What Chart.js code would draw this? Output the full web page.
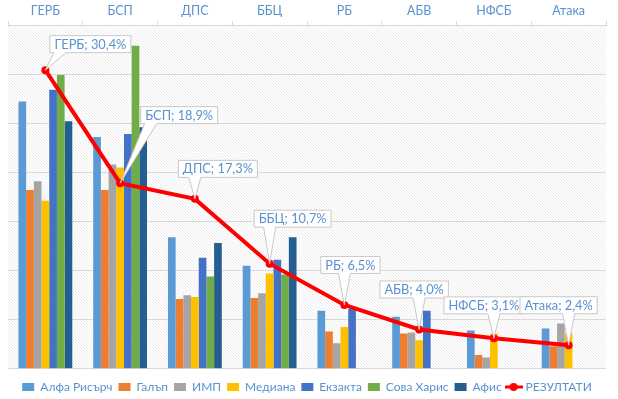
<!DOCTYPE html>
<html>
<head>
<meta charset="utf-8">
<script src="https://cdn.jsdelivr.net/npm/chart.js@4.4.1/dist/chart.umd.min.js"></script>
<style>
  html, body { margin: 0; padding: 0; background: #fff; }
  #wrap { width: 618px; height: 399px; }
</style>
</head>
<body>
<div id="wrap"><canvas id="chart"></canvas></div>
<script>
const parties = ["ГЕРБ", "БСП", "ДПС", "ББЦ", "РБ", "АБВ", "НФСБ", "Атака"];

// poll values per agency (%), null = no value shown
const alphaResearch = [27.2, 23.6, 13.4, 10.5, 5.9, 5.3, 3.9, 4.1];
const gallup        = [18.2, 18.2, 7.1, 7.2, 3.8, 3.6, 1.4, 2.3];
const imp           = [19.1, 20.8, 7.5, 7.7, 2.6, 3.7, 1.15, 4.6];
const mediana       = [17.1, 20.5, 7.3, 9.7, 4.25, 2.9, 3.6, 3.6];
const exacta        = [28.4, 23.9, 11.3, 11.1, 6.1, 5.9, null, null];
const sovaHarris    = [29.9, 32.9, 9.4, 9.6, null, null, null, null];
const afis          = [25.2, 24.6, 12.8, 13.4, null, null, null, null];
const results       = [30.4, 18.9, 17.3, 10.7, 6.5, 4.0, 3.1, 2.4];

const blueText = "#5a92cf";
const fontFamily = "Lato, 'Open Sans', sans-serif";

// diagonal hatch for the plot background
const hatch = document.createElement("canvas");
hatch.width = 3; hatch.height = 3;
const hctx = hatch.getContext("2d");
hctx.fillStyle = "#ffffff";
hctx.fillRect(0, 0, 3, 3);
hctx.fillStyle = "#ececec";
for (let i = 0; i < 3; i++) hctx.fillRect(i, i, 1, 1);

// legend marker for the results line
const lineMarker = document.createElement("canvas");
lineMarker.width = 18; lineMarker.height = 10;
const lctx = lineMarker.getContext("2d");
lctx.strokeStyle = "#ff0000";
lctx.lineWidth = 3;
lctx.beginPath(); lctx.moveTo(0, 5); lctx.lineTo(18, 5); lctx.stroke();
lctx.fillStyle = "#ff0000";
lctx.beginPath(); lctx.arc(9, 5, 4, 0, Math.PI * 2); lctx.fill();

const plotBackground = {
  id: "plotBackground",
  beforeDraw(chart) {
    const { ctx, chartArea: a } = chart;
    ctx.save();
    ctx.fillStyle = ctx.createPattern(hatch, "repeat");
    ctx.fillRect(a.left, a.top, a.right - a.left, a.bottom - a.top);
    ctx.restore();
  },
};

// callout boxes: offset of box centre from the point
const calloutOffsets = [[45, -26], [59, -68], [23, -30], [23, -45], [6, -40], [-5, -40], [-10, -33], [-10, -40]];

const callouts = {
  id: "callouts",
  afterDatasetsDraw(chart) {
    const idx = chart.data.datasets.length - 1;
    const meta = chart.getDatasetMeta(idx);
    const ctx = chart.ctx;
    ctx.save();
    ctx.font = "12.8px " + fontFamily;
    meta.data.forEach((pt, i) => {
      const v = chart.data.datasets[idx].data[i];
      const text = parties[i] + "; " + v.toFixed(1).replace(".", ",") + "%";
      const w = ctx.measureText(text).width + 9;
      const h = 17;
      const cx = pt.x + calloutOffsets[i][0];
      const cy = pt.y + calloutOffsets[i][1];
      const l = cx - w / 2, r = cx + w / 2, t = cy - h / 2, b = cy + h / 2;
      const bc = Math.min(Math.max(pt.x, l + 10), r - 10);
      ctx.beginPath();
      ctx.moveTo(l, t);
      ctx.lineTo(r, t);
      ctx.lineTo(r, b);
      ctx.lineTo(bc + 6, b);
      ctx.lineTo(pt.x, pt.y);
      ctx.lineTo(bc - 6, b);
      ctx.lineTo(l, b);
      ctx.closePath();
      ctx.fillStyle = "#ffffff";
      ctx.fill();
      ctx.strokeStyle = "#c8c8c8";
      ctx.lineWidth = 1;
      ctx.stroke();
      ctx.fillStyle = blueText;
      ctx.textAlign = "center";
      ctx.textBaseline = "middle";
      ctx.fillText(text, cx, cy + 0.5);
    });
    ctx.restore();
  },
};

function barSet(label, data, color) {
  return { type: "bar", label, data, backgroundColor: color, order: 1 };
}

new Chart(document.getElementById("chart"), {
  data: {
    labels: parties,
    datasets: [
      barSet("Алфа Рисърч", alphaResearch, "#5b9bd5"),
      barSet("Галъп", gallup, "#ed7d31"),
      barSet("ИМП", imp, "#a5a5a5"),
      barSet("Медиана", mediana, "#ffc000"),
      barSet("Екзакта", exacta, "#4472c4"),
      barSet("Сова Харис", sovaHarris, "#70ad47"),
      barSet("Афис", afis, "#255e91"),
      {
        type: "line",
        label: "РЕЗУЛТАТИ",
        data: results,
        borderColor: "#ff0000",
        backgroundColor: "#ff0000",
        borderWidth: 4,
        pointRadius: 4,
        pointBackgroundColor: "#ff0000",
        pointBorderWidth: 0,
        tension: 0,
        order: 0,
      },
    ],
  },
  options: {
    responsive: true,
    maintainAspectRatio: false,
    animation: false,
    layout: { padding: { left: 8, right: 12, top: 0, bottom: -4 } },
    datasets: {
      bar: { barPercentage: 1, categoryPercentage: 0.72 },
    },
    scales: {
      x: {
        position: "top",
        grid: { offset: true, drawOnChartArea: false, tickLength: 4, color: "#d9d9d9" },
        border: { color: "#d9d9d9" },
        ticks: { color: blueText, font: { family: fontFamily, size: 12.5 }, padding: 3 },
      },
      y: {
        min: 0,
        max: 35,
        ticks: { display: false, stepSize: 5 },
        grid: { color: "#d9d9d9", drawTicks: false },
        border: { display: false },
      },
    },
    plugins: {
      tooltip: { enabled: false },
      legend: {
        position: "bottom",
        title: { display: true, text: " ", font: { size: 1 }, padding: 2.5 },
        labels: {
          color: blueText,
          font: { family: fontFamily, size: 12 },
          usePointStyle: true,
          pointStyleWidth: 12,
          boxHeight: 8,
          padding: 6,
          sort: (a, b) => a.datasetIndex - b.datasetIndex,
          generateLabels(chart) {
            const items = Chart.defaults.plugins.legend.labels.generateLabels(chart);
            items.forEach((it) => {
              const ds = chart.data.datasets[it.datasetIndex];
              it.pointStyle = ds.type === "line" ? lineMarker : "rect";
              it.lineWidth = 0;
            });
            return items;
          },
        },
      },
    },
  },
  plugins: [plotBackground, callouts],
});
</script>
</body>
</html>
